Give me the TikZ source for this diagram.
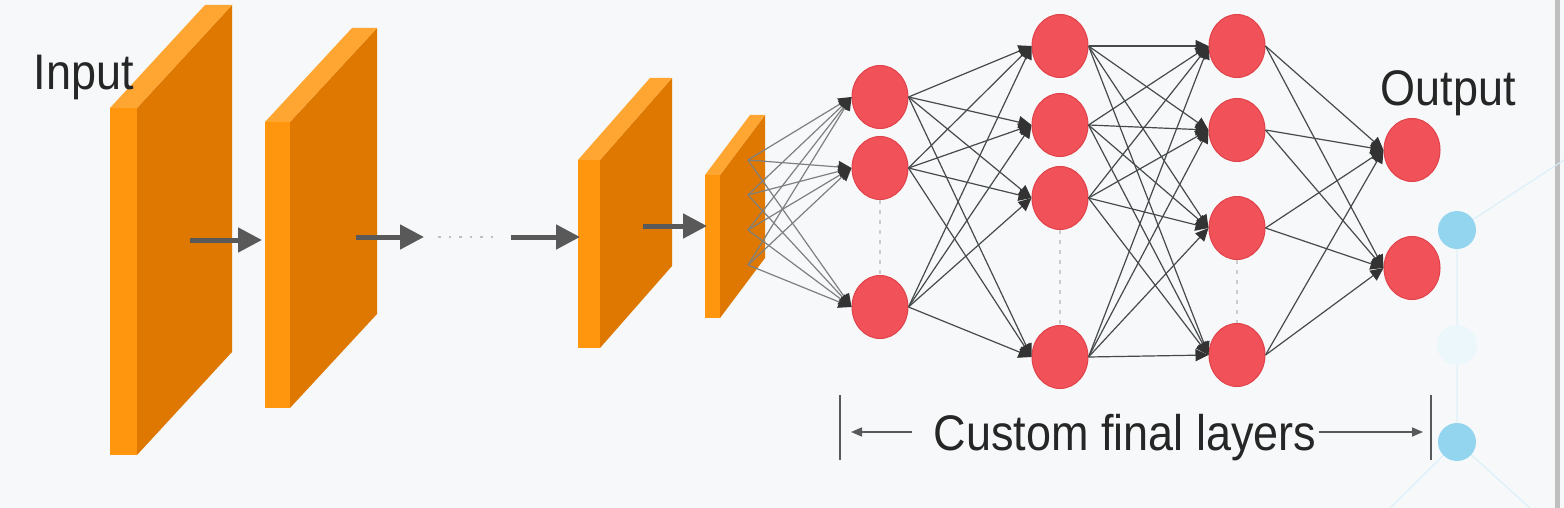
\documentclass[tikz,border=0pt]{standalone}
\usepackage{fontspec}
\setmainfont{Liberation Sans}
\usetikzlibrary{arrows.meta,shapes.geometric}

\definecolor{bgcol}{RGB}{246,248,249}
\definecolor{fmfront}{RGB}{255,150,14}
\definecolor{fmface}{RGB}{222,120,0}
\definecolor{neur}{RGB}{241,82,90}
\definecolor{neurline}{RGB}{224,66,74}
\definecolor{wirecol}{RGB}{70,74,74}
\definecolor{bgdot}{RGB}{128,204,236}

\tikzset{
  neuron/.style={ellipse, draw=neurline, line width=1pt, fill=neur, minimum width=56, minimum height=63, inner sep=0pt},
  wire/.style={draw=wirecol, line width=1.2pt, -{Triangle[length=13pt,width=12pt,color=black!80]}},
  flow/.style={draw=black!65, line width=5pt, -{Triangle[length=24pt,width=24pt]}},
  brk/.style={draw=black!65, line width=1.5pt, -{Triangle[length=11pt,width=9pt]}},
  lbl/.style={font=\fontsize{50}{56}\selectfont, text=black!85, xscale=0.9, inner sep=0pt},
}

\newcommand{\fmap}[6]{% x, ytop, ybot, w, dx, dy
  \fill[fmface] (#1+#4,#2) -- (#1+#4+#5,#2-#6) -- (#1+#4+#5,#3-#6) -- (#1+#4,#3) -- cycle;
  \fill[fmfront!85!white] (#1,#2) -- (#1+#5,#2-#6) -- (#1+#4+#5,#2-#6) -- (#1+#4,#2) -- cycle;
  \fill[fmfront] (#1,#2) rectangle (#1+#4,#3);
}

\begin{document}
\begin{tikzpicture}[x=1pt,y=-1pt]
  \useasboundingbox (0,0) rectangle (1564,508);
  \fill[bgcol] (0,0) rectangle (1564,508);
  \fill[black!25] (1555,0) rectangle (1560,508);

  \draw[bgdot!30, line width=1pt] (1457,230) -- (1457,442) (1457,230) -- (1564,160)
    (1457,442) -- (1390,508) (1457,442) -- (1530,508);
  \fill[bgdot!15] (1457,345) circle (20);
  \fill[bgdot!85] (1457,230) circle (19) (1457,442) circle (19);

  \fmap{110}{108}{455}{27}{95}{103}
  \fmap{265}{122}{408}{25}{87}{94}
  \fmap{578}{160}{348}{22}{72}{82}
  \fmap{705}{175}{318}{15}{45}{60}

  \coordinate (a1) at (190,240); \coordinate (b1) at (262,240);
  \coordinate (a2) at (356,237); \coordinate (b2) at (424,237);
  \coordinate (d1) at (438,237); \coordinate (d2) at (495,237);
  \coordinate (a3) at (511,237); \coordinate (b3) at (580,237);
  \coordinate (a4) at (643,226); \coordinate (b4) at (707,226);
  \draw[flow] (a1) -- (b1);
  \draw[flow] (a2) -- (b2);
  \draw[flow] (a3) -- (b3);
  \draw[flow] (a4) -- (b4);
  \draw[black!25, line width=2.5pt, dash pattern=on 2.5pt off 8pt] (d1) -- (d2);

  \foreach \y [count=\i] in {97,168,307} \node[neuron] (fc1-\i) at (880,\y) {};
  \foreach \y [count=\i] in {46,125,198,357} \node[neuron] (fc2-\i) at (1060,\y) {};
  \foreach \y [count=\i] in {46,130,228,355} \node[neuron] (fc3-\i) at (1237,\y) {};
  \foreach \y [count=\i] in {150,268} \node[neuron] (out-\i) at (1412,\y) {};

  \foreach \y [count=\i] in {160,195,230,265} \coordinate (s\i) at (748,\y);
  \foreach \i in {1,...,4} \foreach \j in {1,2,3} \draw[wire, draw=wirecol!70] (s\i) -- (fc1-\j.west);
  \foreach \i in {1,2,3} \foreach \j in {1,...,4} \draw[wire] (fc1-\i.east) -- (fc2-\j.west);
  \foreach \i in {1,...,4} \foreach \j in {1,...,4} \draw[wire] (fc2-\i.east) -- (fc3-\j.west);
  \foreach \i in {1,...,4} \foreach \j in {1,2} \draw[wire] (fc3-\i.east) -- (out-\j.west);

  \draw[black!20, line width=1.5pt, dash pattern=on 4pt off 6pt] (fc1-2.south) -- (fc1-3.north);
  \draw[black!20, line width=1.5pt, dash pattern=on 4pt off 6pt] (fc2-3.south) -- (fc2-4.north);
  \draw[black!20, line width=1.5pt, dash pattern=on 4pt off 6pt] (fc3-3.south) -- (fc3-4.north);

  \node[lbl] (inp) at (84,77) {Input};
  \node[lbl] (outp) at (1448,93) {Output};
  \node[lbl] (cfl) at (1125,438) {Custom final layers};

  \coordinate (bl) at (840,432); \coordinate (br) at (1431,432);
  \draw[black!65, line width=1.5pt] (840,395) -- (840,460) (1431,395) -- (1431,460);
  \draw[brk] ([xshift=-22pt,yshift=6pt]cfl.west) -- ([xshift=11pt]bl);
  \draw[brk] ([xshift=2pt,yshift=6pt]cfl.east) -- ([xshift=-8pt]br);
\end{tikzpicture}
\end{document}
